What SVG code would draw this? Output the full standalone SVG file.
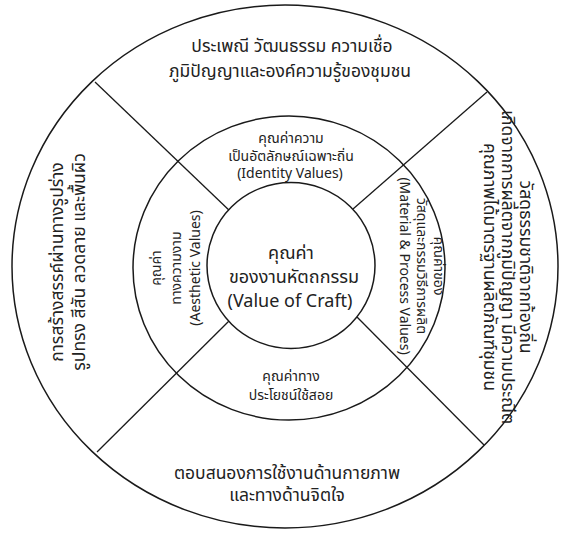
<svg xmlns="http://www.w3.org/2000/svg" width="563" height="534" viewBox="0 0 563 534">
<style>
.ring{fill:none;stroke:#1a1a1a;stroke-width:1.5}
.ln{stroke:#1a1a1a;stroke-width:1.3}
text{font-family:Tahoma,"Noto Sans Thai","Noto Sans","DejaVu Sans",sans-serif;fill:#222;text-anchor:middle}
.big{font-size:17.5px}
.mid{font-size:14px}
.ctr{font-size:18px}
</style>
<rect width="563" height="534" fill="#fff"/>
<g id="outer-ring"><ellipse class="ring" cx="285" cy="266.5" rx="273" ry="261.5"/></g>
<g id="middle-ring"><ellipse class="ring" cx="289" cy="268" rx="156" ry="152"/></g>
<g id="connectors">
<line class="ln" x1="95" y1="82" x2="232" y2="213"/>
<line class="ln" x1="487" y1="92" x2="353" y2="209"/>
<line class="ln" x1="357" y1="317" x2="484" y2="445"/>
<line class="ln" x1="229" y1="321" x2="97" y2="452"/>
</g>
<g id="center">
<ellipse cx="291" cy="265.5" rx="84" ry="83" fill="#fff" stroke="#1a1a1a" stroke-width="1.5"/>
<text class="ctr" x="291" y="259">คุณค่า</text>
<text class="ctr" x="294" y="283">ของงานหัตถกรรม</text>
<text class="ctr" x="290" y="307">(Value of Craft)</text>
</g>
<g id="top-outer">
<text class="big" x="292" y="52">ประเพณี วัฒนธรรม ความเชื่อ</text>
<text class="big" x="290" y="77">ภูมิปัญญาและองค์ความรู้ของชุมชน</text>
</g>
<g id="bottom-outer">
<text class="big" x="287" y="479">ตอบสนองการใช้งานด้านกายภาพ</text>
<text class="big" x="287" y="501">และทางด้านจิตใจ</text>
</g>
<g id="left-outer">
<text class="big" transform="translate(63,262) rotate(-90)">การสร้างสรรค์ผ่านทางรูปร่าง</text>
<text class="big" transform="translate(85,262) rotate(-90)">รูปทรง สีสัน ลวดลาย และพื้นผิว</text>
</g>
<g id="right-outer">
<text class="big" transform="translate(520,267) rotate(90)">วัสดุธรรมชาติจากท้องถิ่น</text>
<text class="big" transform="translate(502,267) rotate(90)">เกิดจากการผลิตจากภูมิปัญญา มีความประณีต</text>
<text class="big" transform="translate(484,267) rotate(90)">คุณภาพได้มาตรฐานผลิตภัณฑ์ชุมชน</text>
</g>
<g id="identity">
<text class="mid" x="291" y="143">คุณค่าความ</text>
<text class="mid" x="291" y="161">เป็นอัตลักษณ์เฉพาะถิ่น</text>
<text class="mid" x="290" y="178">(Identity Values)</text>
</g>
<g id="aesthetic">
<text class="mid" transform="translate(161,268) rotate(-90)">คุณค่า</text>
<text class="mid" transform="translate(181,268) rotate(-90)">ทางความงาม</text>
<text class="mid" transform="translate(200,268) rotate(-90)">(Aesthetic Values)</text>
</g>
<g id="material">
<text class="mid" transform="translate(434,266) rotate(90)">คุณค่าของ</text>
<text class="mid" transform="translate(417,266) rotate(90)">วัสดุและกรรมวิธีการผลิต</text>
<text class="mid" transform="translate(400,266) rotate(90)">(Material &amp; Process Values)</text>
</g>
<g id="utility">
<text class="mid" x="291" y="381">คุณค่าทาง</text>
<text class="mid" x="291" y="400">ประโยชน์ใช้สอย</text>
</g>
</svg>
